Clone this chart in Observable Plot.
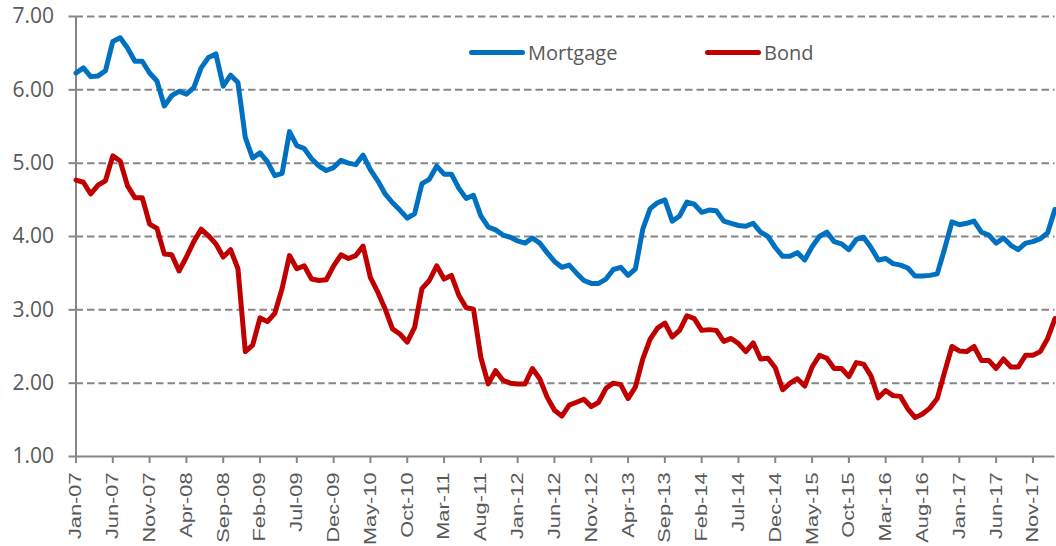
<!DOCTYPE html>
<html>
<head>
<meta charset="utf-8">
<script src="https://cdn.jsdelivr.net/npm/d3@7"></script>
<script src="https://cdn.jsdelivr.net/npm/@observablehq/plot@0.6"></script>
<style>
  html, body { margin: 0; padding: 0; background: #fff; }
  #wrap { position: relative; width: 1056px; height: 546px; overflow: hidden; }
  #legend { position: absolute; left: 0; top: 0; font-family: "Open Sans", sans-serif; font-size: 20px; color: #595959; }
  .item { position: absolute; top: 38px; height: 28px; display: flex; align-items: center; white-space: nowrap; }
  .sw { display: inline-block; width: 56px; height: 5px; border-radius: 3px; margin-right: 3px; }
</style>
</head>
<body>
<div id="wrap">
  <div id="chart"></div>
  <div id="legend">
    <div class="item" style="left:469px"><span class="sw" style="background:#0070C0"></span>Mortgage</div>
    <div class="item" style="left:705px"><span class="sw" style="background:#C00000"></span>Bond</div>
  </div>
</div>
<script>
// Monthly series, Jan-07 (index 0) to Feb-18 (index 133)
const mortgage = [
  6.23, 6.30, 6.18, 6.19, 6.26, 6.66, 6.71, 6.57, 6.39, 6.39,
  6.23, 6.12, 5.78, 5.92, 5.98, 5.94, 6.03, 6.30, 6.44, 6.49,
  6.05, 6.20, 6.10, 5.35, 5.07, 5.14, 5.02, 4.83, 4.86, 5.43,
  5.24, 5.20, 5.06, 4.96, 4.90, 4.94, 5.04, 5.00, 4.98, 5.11,
  4.91, 4.76, 4.58, 4.46, 4.36, 4.25, 4.31, 4.72, 4.78, 4.96,
  4.85, 4.85, 4.66, 4.52, 4.56, 4.28, 4.13, 4.09, 4.02, 3.99,
  3.94, 3.91, 3.98, 3.91, 3.78, 3.66, 3.58, 3.61, 3.50, 3.40,
  3.36, 3.36, 3.42, 3.55, 3.58, 3.47, 3.56, 4.10, 4.38, 4.46,
  4.50, 4.21, 4.28, 4.47, 4.44, 4.33, 4.36, 4.35, 4.21, 4.18,
  4.15, 4.14, 4.18, 4.06, 4.00, 3.85, 3.73, 3.73, 3.78, 3.68,
  3.86, 4.00, 4.06, 3.93, 3.90, 3.82, 3.96, 3.99, 3.85, 3.68,
  3.70, 3.63, 3.61, 3.57, 3.46, 3.46, 3.47, 3.49, 3.83, 4.20,
  4.16, 4.18, 4.21, 4.06, 4.02, 3.91, 3.98, 3.88, 3.82, 3.91,
  3.93, 3.97, 4.05, 4.37
];
const bond = [
  4.77, 4.74, 4.58, 4.70, 4.76, 5.10, 5.03, 4.69, 4.53, 4.53,
  4.17, 4.11, 3.76, 3.75, 3.53, 3.72, 3.93, 4.10, 4.01, 3.90,
  3.72, 3.82, 3.56, 2.43, 2.52, 2.89, 2.84, 2.95, 3.29, 3.74,
  3.56, 3.60, 3.42, 3.40, 3.41, 3.60, 3.75, 3.70, 3.74, 3.87,
  3.44, 3.24, 3.01, 2.74, 2.67, 2.56, 2.76, 3.29, 3.40, 3.60,
  3.42, 3.47, 3.20, 3.03, 3.01, 2.35, 1.99, 2.17, 2.04, 2.00,
  1.99, 1.99, 2.20, 2.06, 1.81, 1.63, 1.55, 1.70, 1.74, 1.78,
  1.68, 1.74, 1.93, 2.00, 1.98, 1.79, 1.95, 2.33, 2.60, 2.75,
  2.82, 2.63, 2.72, 2.92, 2.88, 2.72, 2.73, 2.72, 2.57, 2.61,
  2.54, 2.43, 2.55, 2.33, 2.34, 2.21, 1.91, 2.00, 2.06, 1.96,
  2.22, 2.38, 2.34, 2.20, 2.20, 2.09, 2.28, 2.26, 2.10, 1.80,
  1.90, 1.83, 1.82, 1.65, 1.53, 1.58, 1.66, 1.79, 2.15, 2.50,
  2.44, 2.43, 2.50, 2.31, 2.31, 2.20, 2.33, 2.22, 2.22, 2.38,
  2.38, 2.43, 2.61, 2.88
];
// X tick labels, one every 5 months starting Jan-07
const tickLabels = [
  "Jan-07","Jun-07","Nov-07","Apr-08","Sep-08","Feb-09","Jul-09","Dec-09","May-10",
  "Oct-10","Mar-11","Aug-11","Jan-12","Jun-12","Nov-12","Apr-13","Sep-13","Feb-14",
  "Jul-14","Dec-14","May-15","Oct-15","Mar-16","Aug-16","Jan-17","Jun-17","Nov-17"
];
const yTicks = [1, 2, 3, 4, 5, 6, 7];
const seriesNames = ["Mortgage", "Bond"];
const seriesColors = ["#0070C0", "#C00000"];

const rows = [
  ...mortgage.map((v, i) => ({i, value: v, series: "Mortgage"})),
  ...bond.map((v, i) => ({i, value: v, series: "Bond"}))
];
const tickPos = tickLabels.map((_, k) => k * 5);

const chart = Plot.plot({
  width: 1056,
  height: 546,
  marginLeft: 75.5,
  marginRight: 1.5,
  marginTop: 16,
  marginBottom: 90,
  style: {background: "#fff", overflow: "visible"},
  x: {type: "linear", domain: [0, mortgage.length - 1]},
  y: {domain: [1, 7]},
  color: {domain: seriesNames, range: seriesColors},
  marks: [
    Plot.ruleY(yTicks.filter(d => d > 1), {stroke: "#868686", strokeWidth: 2, strokeDasharray: "7.5,4"}),
    Plot.axisY({
      ticks: yTicks, tickFormat: d3.format(".2f"), tickSize: 7, tickPadding: 15,
      fontSize: 21, fontFamily: "Open Sans", stroke: "#868686", strokeWidth: 2,
      fill: "#595959", label: null
    }),
    Plot.axisX({
      ticks: tickPos, tickFormat: d => tickLabels[d / 5], tickRotate: -90,
      tickSize: 7, tickPadding: 9, fontSize: 17, fontFamily: "Liberation Sans",
      stroke: "#868686", strokeWidth: 2, fill: "#595959", label: null
    }),
    Plot.ruleX([0], {stroke: "#868686", strokeWidth: 2}),
    Plot.ruleY([1], {stroke: "#868686", strokeWidth: 2}),
    Plot.line(rows, {
      x: "i", y: "value", z: "series", stroke: "series",
      strokeWidth: 5, strokeLinejoin: "round", strokeLinecap: "round"
    })
  ]
});
document.getElementById("chart").appendChild(chart);

// stretch x tick labels lengthwise like the reference
d3.select(chart).selectAll('g[aria-label="x-axis tick label"] text').each(function() {
  const t = this.getAttribute("transform") || "";
  this.setAttribute("transform", t + " scale(1.28,1)");
});
</script>
</body>
</html>
